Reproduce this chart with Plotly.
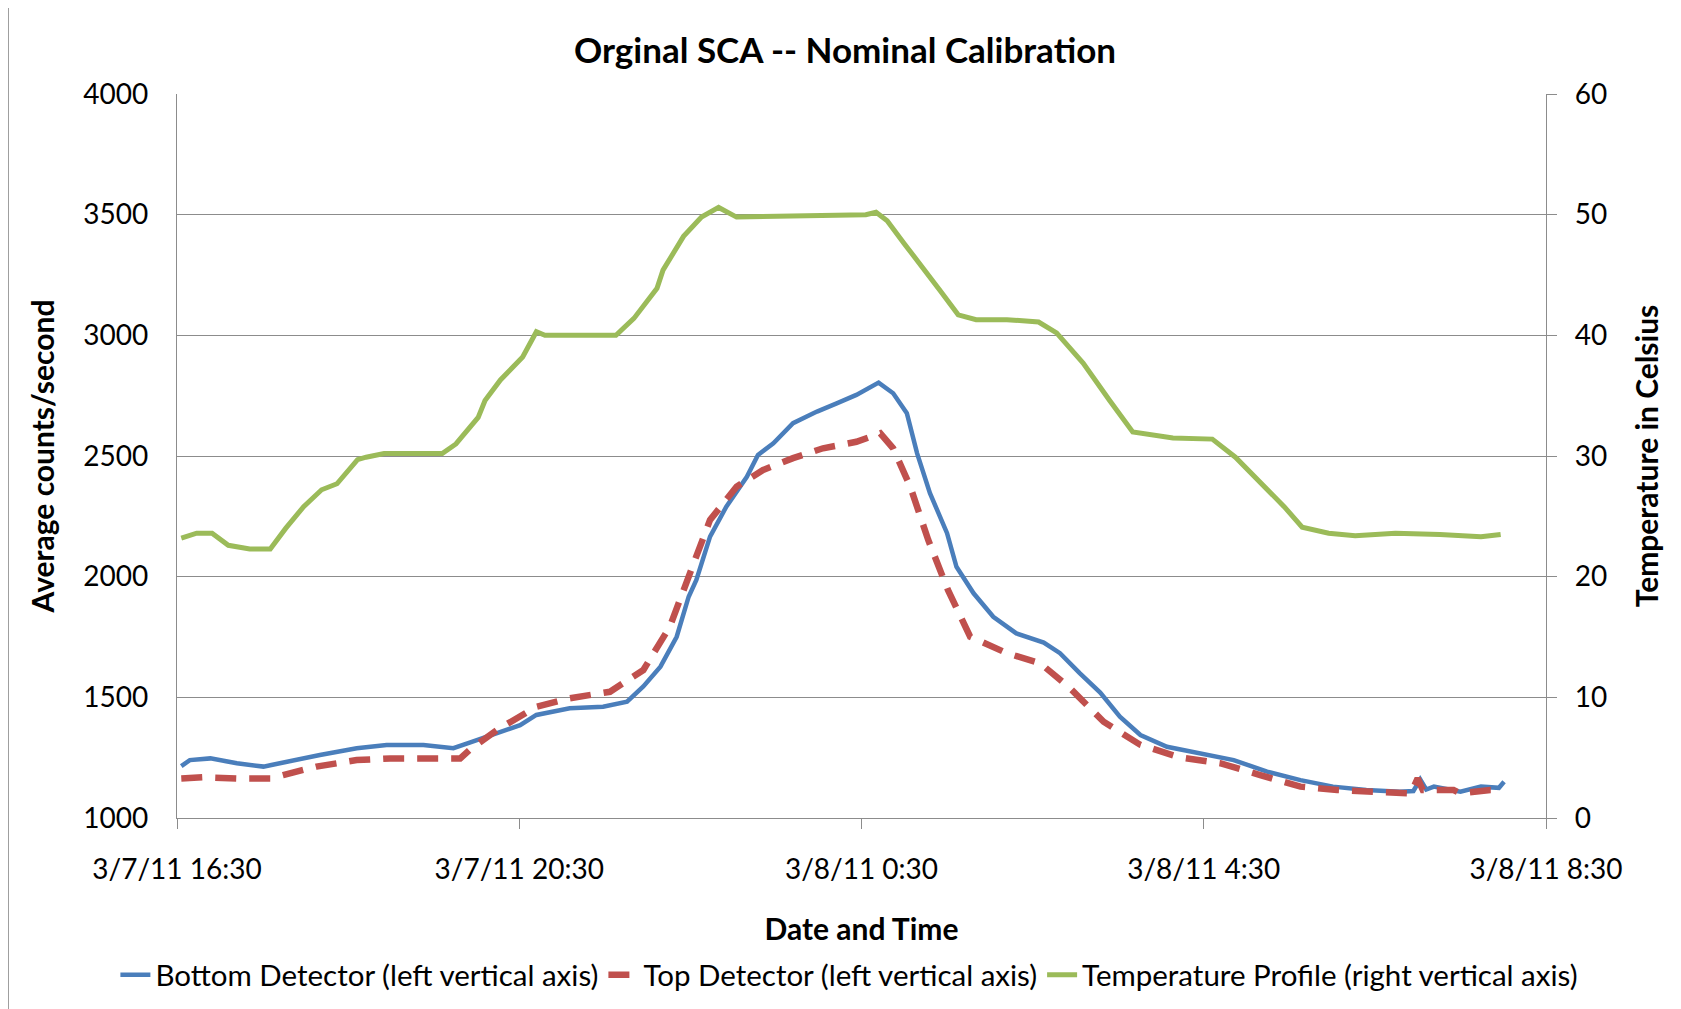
import plotly.graph_objects as go
import pandas as pd

# Hours after 3/7/11 16:30 and the values
start = pd.Timestamp("2011-03-07 16:30")

bottom_hours = [0.05, 0.15, 0.39, 0.70, 1.01, 1.28, 1.67, 2.10, 2.45, 2.88, 3.23, 3.42, 3.74,
                4.01, 4.20, 4.59, 4.98, 5.26, 5.45, 5.65, 5.84, 5.98, 6.07, 6.23, 6.42, 6.66,
                6.79, 6.97, 7.20, 7.48, 7.71, 7.94, 8.20, 8.37, 8.53, 8.65, 8.80, 9.00, 9.11,
                9.31, 9.54, 9.81, 10.13, 10.32, 10.55, 10.79, 11.02, 11.26, 11.57, 11.96,
                12.35, 12.74, 13.13, 13.51, 13.90, 14.29, 14.45, 14.53, 14.60, 14.69, 15.00,
                15.24, 15.45, 15.51]
bottom_counts = [1215, 1240, 1247, 1227, 1213, 1233, 1261, 1289, 1302, 1302, 1289, 1312, 1351,
                 1385, 1427, 1455, 1461, 1482, 1545, 1627, 1751, 1917, 1986, 2166, 2290, 2414,
                 2504, 2553, 2636, 2684, 2718, 2753, 2804, 2760, 2677, 2511, 2346, 2180, 2041,
                 1931, 1834, 1765, 1727, 1683, 1600, 1520, 1420, 1344, 1295, 1268,
                 1240, 1192, 1157, 1130, 1116, 1109, 1112, 1160, 1118, 1130, 1109,
                 1130, 1125, 1150]

top_hours = [0.05, 0.31, 0.70, 1.09, 1.24, 1.63, 2.10, 2.49, 2.92, 3.31, 3.42, 3.74, 4.20,
             4.59, 5.06, 5.45, 5.76, 6.00, 6.23, 6.54, 6.85, 7.20, 7.55, 7.94, 8.22, 8.37,
             8.57, 8.78, 9.01, 9.27, 9.70, 10.09, 10.44, 10.83, 11.26, 11.72, 12.19, 12.66,
             13.13, 13.56, 14.06, 14.42, 14.50, 14.56, 14.92, 15.00, 15.35, 15.46]
top_counts = [1164, 1169, 1164, 1164, 1178, 1213, 1240, 1247, 1247, 1247, 1282, 1365, 1461,
              1496, 1523, 1613, 1793, 2014, 2235, 2373, 2442, 2491, 2532, 2559, 2594, 2532,
              2373, 2152, 1945, 1751, 1683, 1641, 1537, 1399, 1303, 1251, 1227, 1178,
              1130, 1116, 1109, 1102, 1164, 1116, 1116, 1102, 1116, 1116]

temp_hours = [0.05, 0.23, 0.41, 0.60, 0.85, 1.09, 1.27, 1.48, 1.69, 1.87, 2.11, 2.21, 2.42,
              3.10, 3.26, 3.52, 3.60, 3.78, 4.04, 4.20, 4.30, 5.13, 5.34, 5.61, 5.68, 5.92,
              6.13, 6.33, 6.54, 7.22, 8.05, 8.17, 8.30, 8.50, 8.71, 8.92, 9.13, 9.34, 9.70,
              10.07, 10.28, 10.59, 10.90, 11.17, 11.64, 12.10, 12.37, 12.68, 12.94, 13.15,
              13.46, 13.77, 14.24, 14.76, 15.24, 15.47]
temp_celsius = [23.2, 23.6, 23.6, 22.6, 22.3, 22.3, 24.0, 25.8, 27.2, 27.7, 29.7, 29.9, 30.2,
                30.2, 31.0, 33.2, 34.6, 36.3, 38.2, 40.3, 40.0, 40.0, 41.4, 43.9, 45.4, 48.2,
                49.8, 50.6, 49.8, 49.9, 50.0, 50.2, 49.5, 47.6, 45.7, 43.7, 41.7, 41.3, 41.3,
                41.1, 40.2, 37.7, 34.6, 32.0, 31.5, 31.4, 29.9, 27.7, 25.8, 24.1,
                23.6, 23.4, 23.6, 23.5, 23.3, 23.5]


def to_time(hours):
    return start + pd.to_timedelta(hours, unit="h")


FONT = "Lato"
GRID = "#8c8c8c"

fig = go.Figure()

fig.add_trace(go.Scatter(
    x=to_time(bottom_hours), y=bottom_counts, mode="lines",
    name="Bottom Detector (left vertical axis)",
    line=dict(color="#4a7ebb", width=4.5),
))
fig.add_trace(go.Scatter(
    x=to_time(top_hours), y=top_counts, mode="lines",
    name="Top Detector (left vertical axis)",
    line=dict(color="#c0504d", width=6.5, dash="21px,13px"),
))
fig.add_trace(go.Scatter(
    x=to_time(temp_hours), y=temp_celsius, mode="lines", yaxis="y2",
    name="Temperature Profile (right vertical axis)",
    line=dict(color="#9bbb59", width=5),
))

# chart border (the page itself sits 8px in from the window corner)
fig.add_shape(type="rect", xref="paper", yref="paper",
              x0=-0.1234, x1=1.2, y0=-0.4, y1=1.12,
              line=dict(color="#8a8a8a", width=1.5), layer="below")

fig.update_layout(
    width=1673, height=1001,
    margin=dict(l=169, r=135, t=86, b=191, autoexpand=False),
    paper_bgcolor="white", plot_bgcolor="white",
    font=dict(family=FONT, size=28, color="black"),
    title=dict(text="<b>Orginal SCA -- Nominal Calibration</b>",
               x=0.5003, xanchor="center", y=0.957, yanchor="middle",
               font=dict(family=FONT, size=35, color="black")),
    showlegend=True,
    # anchored left of the plot area so the single row may use the left margin too
    legend=dict(orientation="h", x=-0.045, xanchor="left", y=-0.217, yanchor="middle",
                font=dict(family=FONT, size=29.5, color="black"),
                bgcolor="rgba(0,0,0,0)"),
    xaxis=dict(
        type="date",
        range=[start, start + pd.Timedelta(hours=16)],
        tick0=start, dtick=4 * 3600 * 1000,
        tickformat="%-m/%-d/%y %-H:%M",
        ticks="outside", ticklen=10, tickcolor=GRID, tickwidth=1.3,
        showline=True, linecolor=GRID, linewidth=1.3,
        showgrid=False, zeroline=False,
        ticklabelstandoff=16,
        title=dict(text="<b>Date and Time</b>", standoff=35,
                   font=dict(family=FONT, size=30)),
    ),
    yaxis=dict(
        range=[1000, 4000], dtick=500,
        showline=True, linecolor=GRID, linewidth=1.3,
        showgrid=True, gridcolor=GRID, gridwidth=1.3,
        zeroline=False, ticks="", ticklabelstandoff=22,
        title=dict(text="<b>Average counts/second</b>", standoff=19,
                   font=dict(family=FONT, size=30)),
    ),
    yaxis2=dict(
        range=[0, 60], dtick=10, overlaying="y", side="right",
        showline=True, linecolor=GRID, linewidth=1.3,
        showgrid=False, zeroline=False,
        ticks="outside", ticklen=10, tickcolor=GRID, tickwidth=1.3,
        ticklabelstandoff=12,
        title=dict(text="<b>Temperature in Celsius</b>", standoff=30,
                   font=dict(family=FONT, size=30)),
    ),
)

fig.write_html("out.html")
